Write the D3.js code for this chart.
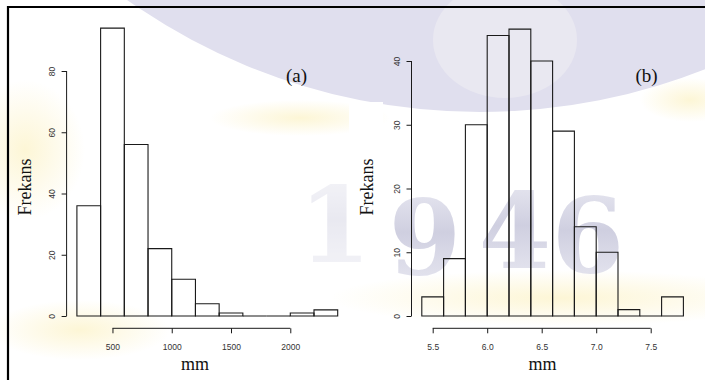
<!DOCTYPE html>
<html>
<head>
<meta charset="utf-8">
<script src="https://cdn.jsdelivr.net/npm/d3@7"></script>
<style>
  body { margin: 0; background: #fff; }
  svg { display: block; }
</style>
</head>
<body>
<div id="chart"></div>
<script>
// Histogram (a): rainfall in mm
const edgesA = [200, 400, 600, 800, 1000, 1200, 1400, 1600, 1800, 2000, 2200, 2400];
const countsA = [36, 94, 56, 22, 12, 4, 1, 0, 0, 1, 2];
const xTicksA = [500, 1000, 1500, 2000];
const yTicksA = [0, 20, 40, 60, 80];

// Histogram (b): values in mm
const edgesB = [5.4, 5.6, 5.8, 6.0, 6.2, 6.4, 6.6, 6.8, 7.0, 7.2, 7.4, 7.6, 7.8];
const countsB = [3, 9, 30, 44, 45, 40, 29, 14, 10, 1, 0, 3];
const xTicksB = [5.5, 6.0, 6.5, 7.0, 7.5];
const yTicksB = [0, 10, 20, 30, 40];

const width = 705, height = 380;

const svg = d3.select('#chart')
  .append('svg')
  .attr('width', width)
  .attr('height', height);

// Background watermark (logo + year)
function drawWatermark() {
  const defs = svg.append('defs');
  const glow = defs.append('radialGradient').attr('id', 'glow');
  glow.append('stop').attr('offset', '0%').attr('stop-color', '#fcf2c4').attr('stop-opacity', 0.7);
  glow.append('stop').attr('offset', '100%').attr('stop-color', '#fcf2c4').attr('stop-opacity', 0);

  const fade = defs.append('linearGradient').attr('id', 'fade')
    .attr('x1', 0).attr('y1', 0).attr('x2', 0).attr('y2', 1);
  fade.append('stop').attr('offset', '0%').attr('stop-color', '#d6d6e6').attr('stop-opacity', 0.5);
  fade.append('stop').attr('offset', '45%').attr('stop-color', '#cfcfe0').attr('stop-opacity', 1);
  fade.append('stop').attr('offset', '100%').attr('stop-color', '#d6d6e6').attr('stop-opacity', 0.5);

  const wm = svg.append('g').attr('class', 'watermark');

  wm.append('rect').attr('width', width).attr('height', height).attr('fill', '#fff');

  // yellow glows
  [[25, 150, 60, 70], [300, 118, 90, 18], [560, 298, 230, 28], [690, 100, 50, 22], [80, 330, 90, 30]]
    .forEach(([cx, cy, rx, ry]) => {
      wm.append('ellipse')
        .attr('cx', cx).attr('cy', cy).attr('rx', rx).attr('ry', ry)
        .attr('fill', 'url(#glow)');
    });

  // big lavender disc
  wm.append('circle')
    .attr('cx', 480).attr('cy', -500).attr('r', 612)
    .attr('fill', '#e0dfee');

  // lighter inner part of the logo
  wm.append('ellipse')
    .attr('cx', 505).attr('cy', 40).attr('rx', 72).attr('ry', 58)
    .attr('fill', '#e9e8f1');

  // year
  const digits = [['1', 335, 262, 0.45], ['9', 425, 275, 1], ['4', 515, 268, 1], ['6', 588, 273, 1]];
  wm.selectAll('.year')
    .data(digits)
    .enter()
    .append('text')
    .attr('class', 'year')
    .attr('x', d => d[1])
    .attr('y', d => d[2])
    .attr('text-anchor', 'middle')
    .style('font-family', '"DejaVu Serif", serif')
    .style('font-weight', 'bold')
    .style('font-size', '104px')
    .style('fill', 'url(#fade)')
    .style('opacity', d => d[3])
    .text(d => d[0]);

  // white patch next to panel (b)
  wm.append('rect')
    .attr('x', 349).attr('y', 102).attr('width', 34).attr('height', 135)
    .attr('fill', '#fff');
}

function drawHist(opts) {
  const { edges, counts, xTicks, yTicks, xFmt, xRange, yDomain, yRange, label,
          labelX, frekansX, mmX } = opts;

  const x = d3.scaleLinear()
    .domain([edges[0], edges[edges.length - 1]])
    .range(xRange);

  const y = d3.scaleLinear()
    .domain(yDomain)
    .range(yRange);

  const g = svg.append('g');

  // bars (drawn as paths so empty bins still show a base line)
  const bins = counts.map((c, i) => ({ x0: edges[i], x1: edges[i + 1], c }));
  g.selectAll('.bar')
    .data(bins)
    .enter()
    .append('path')
    .attr('class', 'bar')
    .attr('d', d => `M${x(d.x0)},${y(0)}V${y(d.c)}H${x(d.x1)}V${y(0)}Z`)
    .style('fill', 'none')
    .style('stroke', '#1a1a1a')
    .style('stroke-width', '1.1px');

  // x axis, R style: line only between first and last tick
  const axisY = y(0) + 12.3;
  const gx = g.append('g')
    .attr('transform', `translate(0,${axisY})`)
    .call(d3.axisBottom(x).tickValues(xTicks).tickSize(5).tickSizeOuter(0).tickFormat(xFmt));
  gx.select('.domain')
    .attr('d', `M${x(xTicks[0])},0H${x(xTicks[xTicks.length - 1])}`);
  styleAxis(gx);
  gx.selectAll('text')
    .attr('y', 18.5)
    .attr('dy', '0.35em');

  // y axis
  const axisX = xRange[0] - 10.3;
  const gy = g.append('g')
    .attr('transform', `translate(${axisX},0)`)
    .call(d3.axisLeft(y).tickValues(yTicks).tickSize(5).tickSizeOuter(0));
  gy.select('.domain')
    .attr('d', `M0,${y(yTicks[0])}V${y(yTicks[yTicks.length - 1])}`);
  styleAxis(gy);
  gy.selectAll('text')
    .attr('transform', 'rotate(-90)')
    .attr('x', 0)
    .attr('y', -11.5)
    .attr('dy', 0)
    .attr('text-anchor', 'middle');

  // titles
  g.append('text')
    .attr('transform', `translate(${frekansX},187) rotate(-90)`)
    .attr('text-anchor', 'middle')
    .attr('dy', '0.35em')
    .style('font-family', '"Liberation Serif", serif')
    .style('font-size', '18px')
    .style('fill', '#111')
    .text('Frekans');

  g.append('text')
    .attr('x', mmX)
    .attr('y', 365)
    .attr('text-anchor', 'middle')
    .attr('dy', '0.3em')
    .style('font-family', '"Liberation Serif", serif')
    .style('font-size', '18px')
    .style('fill', '#111')
    .text('mm');

  g.append('text')
    .attr('x', labelX)
    .attr('y', 75)
    .attr('text-anchor', 'middle')
    .attr('dy', '0.35em')
    .style('font-family', '"Liberation Serif", serif')
    .style('font-size', '19px')
    .style('fill', '#111')
    .text(label);
}

function styleAxis(sel) {
  sel.attr('font-family', null).attr('font-size', null);
  sel.selectAll('path, line')
    .style('stroke', '#1a1a1a')
    .style('stroke-width', '1px');
  sel.selectAll('text')
    .style('font-family', '"Liberation Sans", Arial, sans-serif')
    .style('font-size', '8.5px')
    .style('fill', '#333');
}

drawWatermark();

drawHist({
  edges: edgesA, counts: countsA, xTicks: xTicksA, yTicks: yTicksA,
  xFmt: d3.format('d'),
  xRange: [76.9, 337.7], yDomain: [0, 80], yRange: [316, 71],
  label: '(a)', labelX: 296.5, frekansX: 25, mmX: 195
});

drawHist({
  edges: edgesB, counts: countsB, xTicks: xTicksB, yTicks: yTicksB,
  xFmt: d3.format('.1f'),
  xRange: [421.8, 683.4], yDomain: [0, 40], yRange: [316, 61],
  label: '(b)', labelX: 646.5, frekansX: 366.5, mmX: 542.5
});

// outer frame (left and top edges)
svg.append('path')
  .attr('d', `M8,${height}V7H${width}`)
  .style('fill', 'none')
  .style('stroke', '#000')
  .style('stroke-width', '2.2px');
</script>
</body>
</html>
